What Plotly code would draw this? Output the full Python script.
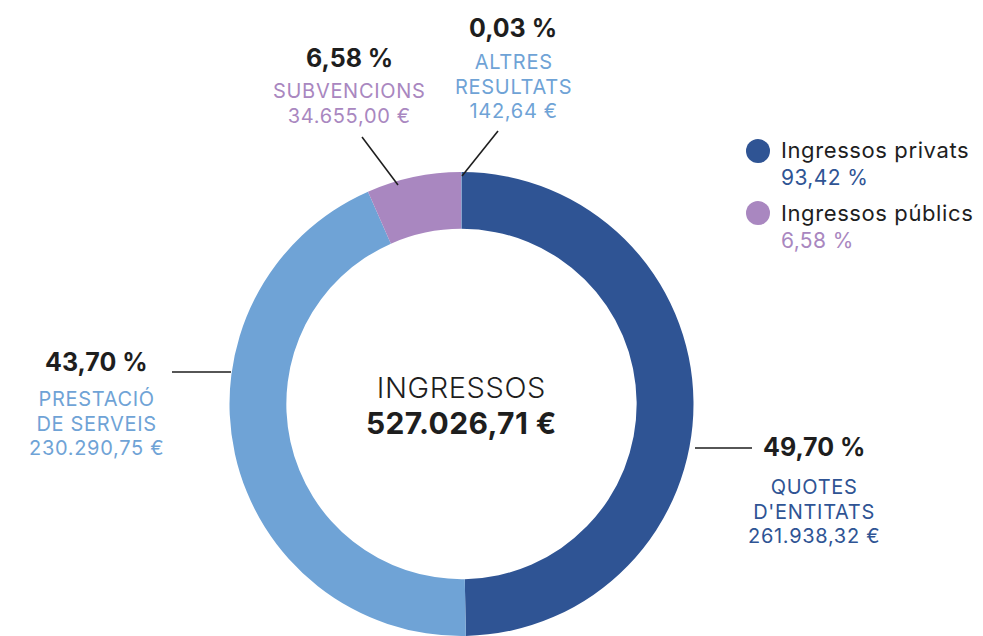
import plotly.graph_objects as go

W, H = 983, 636

# ---- data ----
categories = ["QUOTES<br>D'ENTITATS", "PRESTACIÓ<br>DE SERVEIS", "SUBVENCIONS", "ALTRES<br>RESULTATS"]
values = [261938.32, 230290.75, 34655.00, 142.64]
pct_labels = ["49,70 %", "43,70 %", "6,58 %", "0,03 %"]
amount_labels = ["261.938,32 €", "230.290,75 €", "34.655,00 €", "142,64 €"]
total_label = "527.026,71 €"
center_title = "INGRESSOS"
legend_labels = ["Ingressos privats", "Ingressos públics"]
legend_pcts = ["93,42 %", "6,58 %"]

# ---- styles ----
colors = ["#2F5494", "#6FA3D6", "#A987C0", "#6FA3D6"]
legend_colors = ["#2F5494", "#A987C0"]
FONT = "Inter"
DARK = "#1E1E1E"


def px(x):
    return x / W


def py(y):
    return 1 - y / H


def span(t, size, extra=""):
    return "<span style='font-size:%dpx;%s'>%s</span>" % (size, extra, t)


cx, cy, R = 461.5, 404, 232

fig = go.Figure()
fig.add_trace(go.Pie(
    values=values,
    labels=[c.replace("<br>", " ") for c in categories],
    hole=0.755,
    sort=False,
    direction="clockwise",
    rotation=0,
    marker=dict(colors=colors, line=dict(width=0)),
    textinfo="none",
    hoverinfo="label+value+percent",
    domain=dict(x=[px(cx - R), px(cx + R)], y=[py(cy + R), py(cy - R)]),
    showlegend=False,
))

annotations = []
shapes = []

# label positions: (x center, y of pct line, y of first text line)
label_pos = [
    (814, 447, 487),
    (96, 362, 398),
    (349, 58, 91),
    (513, 28, 62),
]
leaders = [
    ((695, 448), (752, 448)),
    ((231, 372), (172, 372)),
    ((398, 185), (362, 137)),
    ((462, 176), (498, 131)),
]
text_colors = ["#2F5494", "#6FA3D6", "#A987C0", "#6FA3D6"]
LINE_H = 24.7  # 1.3 * 19

for i in range(len(values)):
    x, ypct, ytxt = label_pos[i]
    annotations.append(dict(
        x=px(x), y=py(ypct), xref="paper", yref="paper", showarrow=False,
        text="<b>%s</b>" % pct_labels[i], xanchor="center", yanchor="middle",
        font=dict(family=FONT, size=25, color=DARK)))
    lines = categories[i].split("<br>") + [amount_labels[i]]
    n = len(lines)
    txt = "<br>".join(span(t, 20, "letter-spacing:0.7px") for t in lines)
    annotations.append(dict(
        x=px(x), y=py(ytxt + (n - 1) * LINE_H / 2), xref="paper", yref="paper", showarrow=False,
        text=txt, xanchor="center", yanchor="middle", align="center",
        font=dict(family=FONT, size=19, color=text_colors[i])))
    (x0, y0), (x1, y1) = leaders[i]
    shapes.append(dict(type="line", xref="paper", yref="paper",
                       x0=px(x0), y0=py(y0), x1=px(x1), y1=py(y1),
                       line=dict(color="#1E1E1E", width=1.6)))

# center text (one block, two lines)
annotations.append(dict(x=px(cx), y=py(405), xref="paper", yref="paper", showarrow=False,
                        text=span(center_title, 29, "font-weight:300;letter-spacing:0.6px")
                        + "<br><b>" + span(total_label, 30, "letter-spacing:0.4px") + "</b>",
                        font=dict(family=FONT, size=27.5, color=DARK),
                        xanchor="center", yanchor="middle", align="center"))

# custom legend
leg_y = [151, 213]
for i in range(len(legend_labels)):
    y = leg_y[i]
    shapes.append(dict(type="circle", xref="paper", yref="paper",
                       x0=px(746), x1=px(770), y0=py(y - 12), y1=py(y + 12),
                       fillcolor=legend_colors[i], line=dict(width=0)))
    txt = (span(legend_labels[i], 22, "color:%s;letter-spacing:0.6px" % DARK) + "<br>"
           + span(legend_pcts[i], 21, "letter-spacing:0.4px"))
    annotations.append(dict(x=px(779), y=py(y + 13), xref="paper", yref="paper", showarrow=False,
                            text=txt, xanchor="left", yanchor="middle", align="left",
                            font=dict(family=FONT, size=21, color=legend_colors[i])))

fig.update_layout(
    width=W, height=H,
    margin=dict(l=0, r=0, t=0, b=0),
    paper_bgcolor="white", plot_bgcolor="white",
    annotations=annotations, shapes=shapes,
    showlegend=False,
)

fig.write_html("out.html", config={"displayModeBar": False},
               post_script="document.body.style.margin='0';document.body.style.overflow='hidden';")
